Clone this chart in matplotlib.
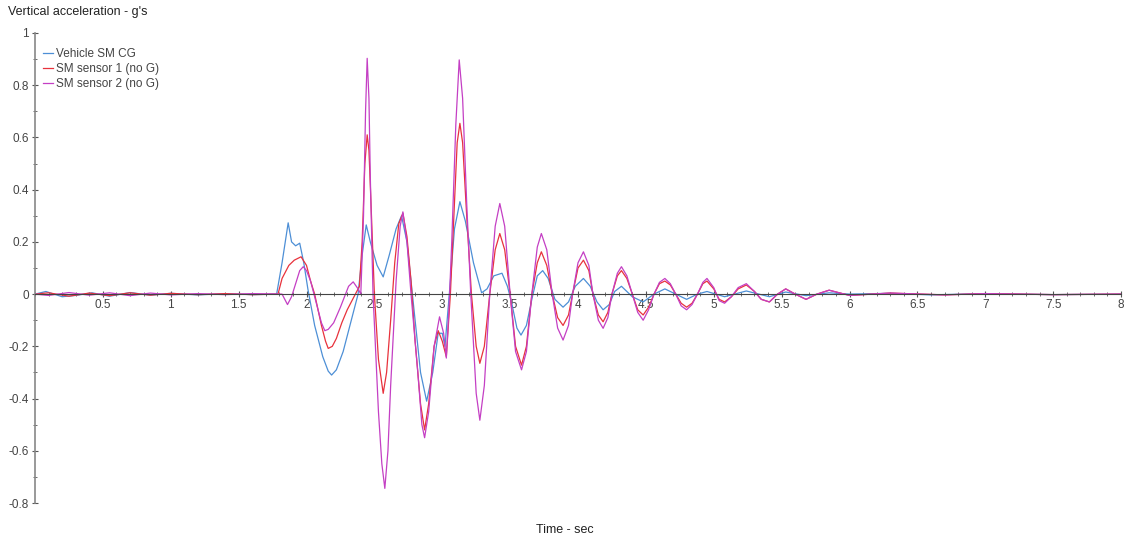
import numpy as np
import matplotlib
matplotlib.use('Agg')
import matplotlib.pyplot as plt
from matplotlib.ticker import MultipleLocator

plt.rcParams['font.family'] = ['Liberation Sans', 'DejaVu Sans']

# ---------------------------------------------------------------------------
# Data (time [s], vertical acceleration [g])
# ---------------------------------------------------------------------------
t_cg = [0.0, 0.08, 0.2, 0.3, 0.42, 0.55, 0.7, 0.85, 1.0, 1.2, 1.4, 1.6, 1.78,
        1.82, 1.865, 1.89, 1.92, 1.95, 1.98, 2.01, 2.06, 2.12, 2.16, 2.185, 2.22,
        2.27, 2.32, 2.38, 2.41, 2.44, 2.47, 2.52, 2.565, 2.61, 2.66, 2.70, 2.74,
        2.79, 2.84, 2.885, 2.93, 2.97, 3.0, 3.02, 3.06, 3.09, 3.13, 3.17, 3.23,
        3.29, 3.33, 3.38, 3.44, 3.48, 3.51, 3.55, 3.58, 3.62, 3.66, 3.70, 3.74,
        3.78, 3.83, 3.89, 3.93, 3.98, 4.04, 4.09, 4.14, 4.185, 4.23, 4.27, 4.32,
        4.36, 4.40, 4.48, 4.56, 4.64, 4.72, 4.80, 4.88, 4.95, 5.08, 5.24, 5.41,
        5.53, 5.68, 5.85, 6.0, 6.3, 6.6, 7.0, 7.5, 8.0]
v_cg = [0.0, 0.01, -0.01, -0.005, 0.005, -0.008, 0.006, -0.004, 0.003, -0.003, 0.002, -0.002, 0.0,
        0.12, 0.273, 0.2, 0.185, 0.195, 0.12, 0.02, -0.12, -0.24, -0.295, -0.31, -0.29,
        -0.22, -0.12, 0.0, 0.15, 0.265, 0.2, 0.11, 0.066, 0.15, 0.25, 0.30, 0.2,
        -0.05, -0.3, -0.41, -0.3, -0.15, -0.15, -0.2, 0.05, 0.25, 0.354, 0.28, 0.12,
        0.005, 0.02, 0.07, 0.08, 0.03, -0.03, -0.13, -0.157, -0.12, -0.02, 0.07, 0.09,
        0.06, -0.02, -0.05, -0.03, 0.03, 0.06, 0.03, -0.03, -0.06, -0.04, 0.01, 0.03,
        0.01, -0.01, -0.03, 0.0, 0.02, 0.0, -0.02, 0.0, 0.01, -0.01, 0.012, -0.01,
        0.008, -0.006, 0.005, 0.0, 0.003, -0.003, 0.002, -0.002, 0.0]

t_s1 = [0.0, 0.1, 0.25, 0.4, 0.55, 0.7, 0.85, 1.0, 1.2, 1.4, 1.6, 1.79,
        1.82, 1.87, 1.91, 1.96, 2.0, 2.03, 2.06, 2.11, 2.14, 2.16, 2.19, 2.22,
        2.26, 2.30, 2.36, 2.39, 2.41, 2.43, 2.447, 2.46, 2.475, 2.50, 2.53, 2.565,
        2.59, 2.62, 2.65, 2.68, 2.71, 2.74, 2.77, 2.80, 2.84, 2.87, 2.90, 2.94,
        2.97, 3.00, 3.03, 3.06, 3.09, 3.11, 3.13, 3.15, 3.18, 3.215, 3.25, 3.277,
        3.31, 3.35, 3.39, 3.424, 3.46, 3.50, 3.54, 3.584, 3.62, 3.66, 3.70, 3.73,
        3.77, 3.81, 3.85, 3.89, 3.93, 3.96, 4.0, 4.04, 4.08, 4.11, 4.15, 4.185,
        4.22, 4.25, 4.29, 4.32, 4.36, 4.40, 4.44, 4.48, 4.52, 4.56, 4.60, 4.64,
        4.68, 4.72, 4.76, 4.80, 4.84, 4.88, 4.92, 4.95, 5.0, 5.04, 5.08, 5.13,
        5.18, 5.24, 5.30, 5.35, 5.41, 5.47, 5.53, 5.60, 5.68, 5.76, 5.85, 6.0,
        6.3, 6.7, 7.0, 7.5, 8.0]
v_s1 = [0.0, 0.005, -0.008, 0.004, -0.006, 0.005, -0.004, 0.003, -0.002, 0.002, -0.002, 0.0,
        0.06, 0.11, 0.13, 0.143, 0.11, 0.05, 0.0, -0.12, -0.18, -0.208, -0.2, -0.17,
        -0.11, -0.06, 0.0, 0.03, 0.2, 0.5, 0.61, 0.55, 0.35, 0.0, -0.25, -0.38,
        -0.3, -0.1, 0.12, 0.27, 0.31, 0.22, 0.05, -0.18, -0.42, -0.52, -0.42, -0.2,
        -0.14, -0.18, -0.24, 0.0, 0.35, 0.58, 0.654, 0.58, 0.3, 0.0, -0.2, -0.265,
        -0.2, 0.0, 0.17, 0.232, 0.17, 0.0, -0.2, -0.272, -0.2, 0.0, 0.12, 0.162,
        0.11, 0.0, -0.09, -0.12, -0.08, 0.0, 0.1, 0.13, 0.09, 0.0, -0.08, -0.106,
        -0.07, 0.0, 0.07, 0.09, 0.06, 0.0, -0.06, -0.08, -0.05, 0.0, 0.04, 0.05,
        0.035, 0.0, -0.035, -0.05, -0.035, 0.0, 0.04, 0.05, 0.02, -0.02, -0.03, -0.01,
        0.02, 0.035, 0.01, -0.02, -0.03, 0.0, 0.02, 0.0, -0.02, 0.0, 0.015, -0.005,
        0.004, -0.003, 0.002, -0.002, 0.0]

t_s2 = [0.0, 0.1, 0.25, 0.4, 0.55, 0.7, 0.85, 1.0, 1.2, 1.4, 1.6, 1.82,
        1.86, 1.89, 1.92, 1.95, 1.976, 2.0, 2.03, 2.08, 2.11, 2.135, 2.16, 2.2,
        2.25, 2.28, 2.31, 2.344, 2.38, 2.40, 2.42, 2.435, 2.447, 2.46, 2.47, 2.49,
        2.53, 2.555, 2.577, 2.60, 2.62, 2.66, 2.69, 2.71, 2.74, 2.77, 2.82, 2.85,
        2.87, 2.90, 2.94, 2.98, 3.01, 3.03, 3.05, 3.07, 3.10, 3.125, 3.15, 3.18,
        3.21, 3.25, 3.277, 3.31, 3.35, 3.39, 3.424, 3.46, 3.50, 3.54, 3.584, 3.62,
        3.66, 3.70, 3.73, 3.77, 3.81, 3.85, 3.89, 3.93, 3.96, 4.0, 4.04, 4.08,
        4.11, 4.15, 4.185, 4.22, 4.25, 4.29, 4.32, 4.36, 4.40, 4.44, 4.48, 4.52,
        4.56, 4.60, 4.64, 4.68, 4.72, 4.76, 4.80, 4.84, 4.88, 4.92, 4.95, 5.0,
        5.04, 5.08, 5.13, 5.18, 5.24, 5.30, 5.35, 5.41, 5.47, 5.53, 5.60, 5.68,
        5.76, 5.85, 6.0, 6.3, 6.7, 7.0, 7.5, 8.0]
v_s2 = [0.0, -0.005, 0.006, -0.004, 0.005, -0.006, 0.004, -0.003, 0.002, -0.002, 0.002, 0.0,
        -0.04, -0.01, 0.04, 0.09, 0.105, 0.09, 0.05, -0.05, -0.11, -0.14, -0.135, -0.11,
        -0.05, -0.01, 0.03, 0.047, 0.02, 0.0, 0.3, 0.7, 0.903, 0.75, 0.45, 0.0,
        -0.45, -0.65, -0.744, -0.6, -0.35, 0.05, 0.26, 0.315, 0.2, 0.0, -0.3, -0.5,
        -0.55, -0.45, -0.2, -0.087, -0.15, -0.245, -0.05, 0.2, 0.65, 0.897, 0.75, 0.35,
        0.0, -0.38, -0.483, -0.35, 0.0, 0.26, 0.347, 0.26, 0.0, -0.22, -0.29, -0.22,
        0.0, 0.18, 0.232, 0.17, 0.0, -0.13, -0.176, -0.12, 0.0, 0.12, 0.162, 0.11,
        0.0, -0.1, -0.131, -0.09, 0.0, 0.08, 0.105, 0.07, 0.0, -0.07, -0.10, -0.06,
        0.0, 0.045, 0.06, 0.04, 0.0, -0.045, -0.06, -0.04, 0.0, 0.045, 0.06, 0.025,
        -0.025, -0.035, -0.01, 0.025, 0.04, 0.01, -0.02, -0.03, 0.0, 0.02, 0.0, -0.02,
        0.0, 0.015, -0.005, 0.004, -0.003, 0.002, -0.002, 0.0]

labels = ['Vehicle SM CG', 'SM sensor 1 (no G)', 'SM sensor 2 (no G)']
colors = ['#4d8fd6', '#e8323c', '#c43fc4']

x_ticks = [0.5, 1, 1.5, 2, 2.5, 3, 3.5, 4, 4.5, 5, 5.5, 6, 6.5, 7, 7.5, 8]
y_ticks = [-0.8, -0.6, -0.4, -0.2, 0, 0.2, 0.4, 0.6, 0.8, 1]

# ---------------------------------------------------------------------------
# Figure
# ---------------------------------------------------------------------------
fig = plt.figure(figsize=(11.31, 5.44), dpi=100)
ax = fig.add_axes([35 / 1131, 41 / 544, 1086 / 1131, 470 / 544])

ax.plot(t_cg, v_cg, color=colors[0], lw=0.9, label=labels[0])
ax.plot(t_s1, v_s1, color=colors[1], lw=0.9, label=labels[1])
ax.plot(t_s2, v_s2, color=colors[2], lw=0.9, label=labels[2])

ax.set_xlim(0, 8)
ax.set_ylim(-0.8, 1.0)

ax.spines['top'].set_visible(False)
ax.spines['right'].set_visible(False)
ax.spines['bottom'].set_position(('data', 0))
ax.spines['bottom'].set_color('#444444')
ax.spines['left'].set_color('#888888')
ax.spines['left'].set_linewidth(1.2)

ax.set_xticks(x_ticks)
ax.set_xticklabels([f'{v:g}' for v in x_ticks])
ax.set_yticks(y_ticks)
ax.set_yticklabels([f'{v:g}' for v in y_ticks])
ax.xaxis.set_minor_locator(MultipleLocator(0.1))
ax.yaxis.set_minor_locator(MultipleLocator(0.1))

ax.tick_params(axis='both', which='major', direction='inout', length=5,
               width=0.8, color='#555555', labelsize=8.5, labelcolor='#444444')
ax.tick_params(axis='both', which='minor', direction='inout', length=3,
               width=0.6, color='#555555')
ax.tick_params(axis='x', pad=1)
ax.tick_params(axis='y', pad=2)

leg = ax.legend(loc='upper left', bbox_to_anchor=(0.0, 0.985), frameon=False,
                fontsize=8.5, handlelength=0.8, handletextpad=0.3,
                labelspacing=0.25, borderaxespad=0.3)
for txt in leg.get_texts():
    txt.set_color('#444444')

fig.text(8 / 1131, 1 - 12 / 544, "Vertical acceleration - g's", fontsize=9,
         color='#222222', ha='left', va='center')
fig.text(565 / 1131, 1 - 530 / 544, 'Time - sec', fontsize=9,
         color='#222222', ha='center', va='center')

fig.savefig('out.png', dpi=100, facecolor='white')
